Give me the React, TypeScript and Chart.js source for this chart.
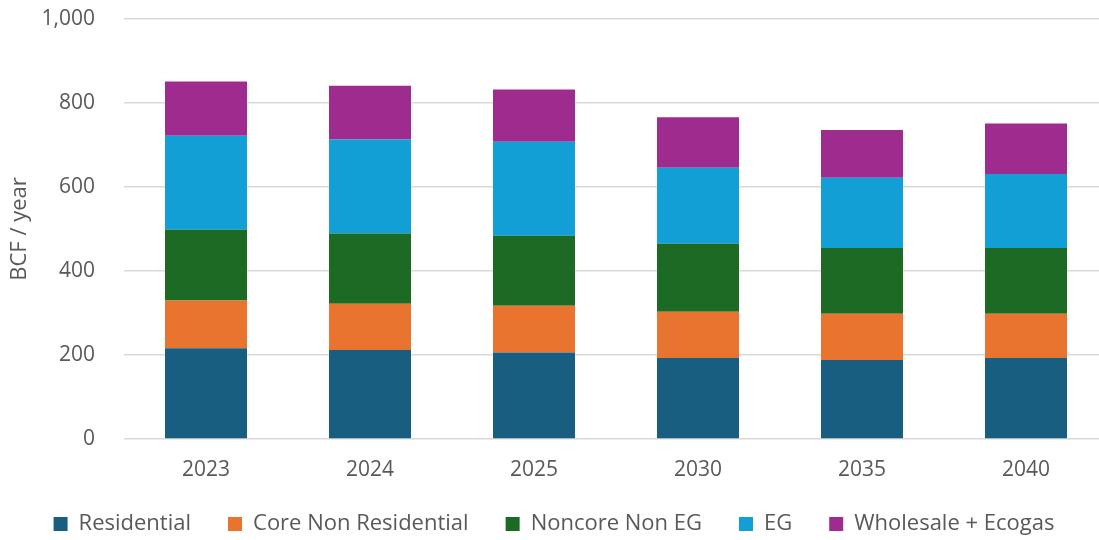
import React, { useEffect, useRef } from "react";
import { Chart, registerables } from "chart.js";

Chart.register(...registerables);

const categories = ["2023", "2024", "2025", "2030", "2035", "2040"];
const seriesNames = ["Residential", "Core Non Residential", "Noncore Non EG", "EG", "Wholesale + Ecogas"];
const residential = [216, 212, 206, 193, 188, 193];
const coreNonResidential = [114, 110, 111, 110, 110, 105];
const noncoreNonEG = [168, 167, 167, 162, 157, 157];
const eg = [224, 224, 224, 181, 167, 176];
const wholesaleEcogas = [129, 128, 124, 120, 114, 120];
const yTicks = [0, 200, 400, 600, 800, 1000];
const yTitle = "BCF / year";

const colors = ["#175E80", "#E87430", "#1C6A24", "#119FD6", "#9E2B8E"];

const legendShift = {
  id: "legendShift",
  afterLayout(chart: any) {
    const lg = chart.legend;
    if (lg) {
      lg.top -= 9;
      lg.height += 9;
    }
  },
};

export default function App() {
  const canvasRef = useRef<HTMLCanvasElement | null>(null);

  useEffect(() => {
    const canvas = canvasRef.current;
    if (!canvas) return;
    const values = [residential, coreNonResidential, noncoreNonEG, eg, wholesaleEcogas];
    const family = "'Open Sans', sans-serif";
    const tickFont = { family, size: 21 };
    const legendFont = { family, size: 22 };
    const chart = new Chart(canvas, {
      type: "bar",
      data: {
        labels: categories,
        datasets: seriesNames.map((name, i) => ({
          label: name,
          data: values[i],
          backgroundColor: colors[i],
          borderWidth: 0,
          barPercentage: 1,
          categoryPercentage: 0.5,
        })),
      },
      plugins: [legendShift],
      options: {
        animation: false,
        responsive: false,
        maintainAspectRatio: false,
        layout: { padding: { top: 19, left: 0, right: 2, bottom: 0 } },
        plugins: {
          tooltip: { enabled: false },
          legend: {
            position: "bottom",
            maxHeight: 55,
            labels: {
              color: "#595959",
              font: legendFont,
              boxWidth: 14,
              boxHeight: 14,
              padding: 37,
            },
          },
        },
        scales: {
          x: {
            stacked: true,
            grid: { display: false, drawTicks: false },
            border: { display: false },
            ticks: { color: "#595959", font: tickFont, padding: 18 },
            afterFit: (scale: any) => {
              scale.height = 46;
            },
          },
          y: {
            stacked: true,
            min: yTicks[0],
            max: yTicks[yTicks.length - 1],
            afterBuildTicks: (axis: any) => {
              axis.ticks = yTicks.map((v) => ({ value: v }));
            },
            afterFit: (scale: any) => {
              scale.width = 124;
            },
            grid: { color: "#d9d9d9", lineWidth: 1.5, drawTicks: true, tickLength: 26, tickColor: "rgba(0,0,0,0)" },
            border: { display: false },
            ticks: { color: "#595959", font: tickFont, padding: 3 },
            title: { display: true, text: yTitle, color: "#595959", font: legendFont, padding: { top: 7, bottom: 0 } },
          },
        },
      },
    });
    return () => chart.destroy();
  }, []);

  return (
    <div style={{ position: "fixed", left: 0, top: 0, width: 1099, height: 540, overflow: "hidden", background: "#fff" }}>
      <canvas ref={canvasRef} width={1110} height={540} style={{ display: "block" }} />
    </div>
  );
}
